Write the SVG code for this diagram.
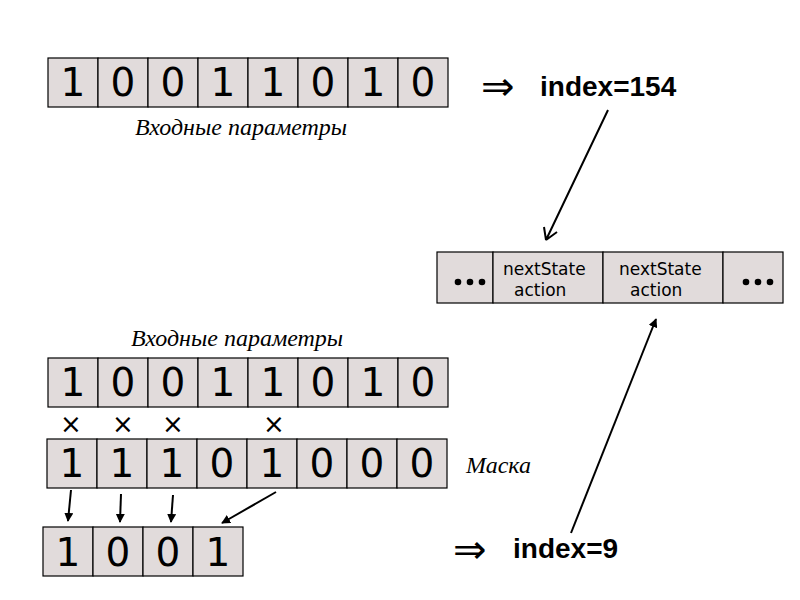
<svg xmlns="http://www.w3.org/2000/svg" width="800" height="600" viewBox="0 0 800 600">
<style>
.cell{fill:#e1dbdb;stroke:#000;stroke-width:1.2}
.dig{font-family:"DejaVu Sans",sans-serif;font-size:39px;fill:#000;text-anchor:middle}
.lab{font-family:"Liberation Serif",serif;font-style:italic;font-size:24px;fill:#000}
.idx{font-family:"Liberation Sans",Arial,sans-serif;font-weight:bold;font-size:28px;fill:#000}
.arr{font-family:"DejaVu Sans",sans-serif;font-size:40px;fill:#000}
.tbl{font-family:"DejaVu Sans",sans-serif;font-size:17px;fill:#000}
.x{font-family:"DejaVu Sans",sans-serif;font-size:26px;fill:#000;text-anchor:middle}
.con{stroke:#000;stroke-width:2;fill:none}
</style>
<defs>
<marker id="ah" viewBox="0 0 10 10" refX="9" refY="5" markerWidth="4.5" markerHeight="4.5" orient="auto">
<path d="M0,0 L10,5 L0,10 z" fill="#000"/>
</marker>
</defs>
<rect width="800" height="600" fill="#fff"/>

<g id="input1">
<rect class="cell" x="48" y="58" width="50" height="49"/>
<rect class="cell" x="98" y="58" width="50" height="49"/>
<rect class="cell" x="148" y="58" width="50" height="49"/>
<rect class="cell" x="198" y="58" width="50" height="49"/>
<rect class="cell" x="248" y="58" width="50" height="49"/>
<rect class="cell" x="298" y="58" width="50" height="49"/>
<rect class="cell" x="348" y="58" width="50" height="49"/>
<rect class="cell" x="398" y="58" width="50" height="49"/>
<text class="dig" x="73" y="96">1</text>
<text class="dig" x="123" y="96">0</text>
<text class="dig" x="173" y="96">0</text>
<text class="dig" x="223" y="96">1</text>
<text class="dig" x="273" y="96">1</text>
<text class="dig" x="323" y="96">0</text>
<text class="dig" x="373" y="96">1</text>
<text class="dig" x="423" y="96">0</text>
<text class="lab" x="241" y="135" text-anchor="middle">Входные параметры</text>
</g>

<g id="index154">
<text class="arr" x="481" y="100">⇒</text>
<text class="idx" x="540" y="96">index=154</text>
</g>

<g id="table">
<rect class="cell" x="437" y="252" width="56" height="51"/>
<rect class="cell" x="493" y="252" width="110" height="51"/>
<rect class="cell" x="603" y="252" width="120" height="51"/>
<rect class="cell" x="723" y="252" width="60" height="51"/>
<circle cx="458" cy="282" r="3.3"/>
<circle cx="470" cy="282" r="3.3"/>
<circle cx="482" cy="282" r="3.3"/>
<circle cx="746" cy="282" r="3.3"/>
<circle cx="758" cy="282" r="3.3"/>
<circle cx="770" cy="282" r="3.3"/>
<text class="tbl" x="503" y="275">nextState</text>
<text class="tbl" x="514" y="296">action</text>
<text class="tbl" x="619" y="275">nextState</text>
<text class="tbl" x="630" y="296">action</text>
</g>

<g id="input2">
<text class="lab" x="237" y="346" text-anchor="middle">Входные параметры</text>
<rect class="cell" x="48" y="358" width="50" height="49"/>
<rect class="cell" x="98" y="358" width="50" height="49"/>
<rect class="cell" x="148" y="358" width="50" height="49"/>
<rect class="cell" x="198" y="358" width="50" height="49"/>
<rect class="cell" x="248" y="358" width="50" height="49"/>
<rect class="cell" x="298" y="358" width="50" height="49"/>
<rect class="cell" x="348" y="358" width="50" height="49"/>
<rect class="cell" x="398" y="358" width="50" height="49"/>
<text class="dig" x="73" y="396">1</text>
<text class="dig" x="123" y="396">0</text>
<text class="dig" x="173" y="396">0</text>
<text class="dig" x="223" y="396">1</text>
<text class="dig" x="273" y="396">1</text>
<text class="dig" x="323" y="396">0</text>
<text class="dig" x="373" y="396">1</text>
<text class="dig" x="423" y="396">0</text>
</g>

<g id="marks">
<text class="x" x="71" y="433">×</text>
<text class="x" x="123" y="433">×</text>
<text class="x" x="173" y="433">×</text>
<text class="x" x="274" y="433">×</text>
</g>

<g id="mask">
<rect class="cell" x="47" y="439" width="50" height="49"/>
<rect class="cell" x="97" y="439" width="50" height="49"/>
<rect class="cell" x="147" y="439" width="50" height="49"/>
<rect class="cell" x="197" y="439" width="50" height="49"/>
<rect class="cell" x="247" y="439" width="50" height="49"/>
<rect class="cell" x="297" y="439" width="50" height="49"/>
<rect class="cell" x="347" y="439" width="50" height="49"/>
<rect class="cell" x="397" y="439" width="50" height="49"/>
<text class="dig" x="72" y="477">1</text>
<text class="dig" x="122" y="477">1</text>
<text class="dig" x="172" y="477">1</text>
<text class="dig" x="222" y="477">0</text>
<text class="dig" x="272" y="477">1</text>
<text class="dig" x="322" y="477">0</text>
<text class="dig" x="372" y="477">0</text>
<text class="dig" x="422" y="477">0</text>
<text class="lab" x="466" y="473">Маска</text>
</g>

<g id="result">
<rect class="cell" x="43" y="527" width="50" height="49"/>
<rect class="cell" x="93" y="527" width="50" height="49"/>
<rect class="cell" x="143" y="527" width="50" height="49"/>
<rect class="cell" x="193" y="527" width="50" height="49"/>
<text class="dig" x="68" y="566">1</text>
<text class="dig" x="118" y="566">0</text>
<text class="dig" x="168" y="566">0</text>
<text class="dig" x="218" y="566">1</text>
</g>

<g id="index9">
<text class="arr" x="453" y="563">⇒</text>
<text class="idx" x="513" y="558">index=9</text>
</g>

<g id="connectors">
<path class="con" d="M608,110 L546,240 M546,240 L544,227 M546,240 L557,232"/>
<line class="con" x1="571" y1="533" x2="656" y2="319" marker-end="url(#ah)"/>
<line class="con" x1="71" y1="490" x2="68" y2="521" marker-end="url(#ah)"/>
<line class="con" x1="121" y1="494" x2="120" y2="522" marker-end="url(#ah)"/>
<line class="con" x1="173" y1="495" x2="171" y2="522" marker-end="url(#ah)"/>
<line class="con" x1="276" y1="492" x2="222" y2="523" marker-end="url(#ah)"/>
</g>
</svg>
